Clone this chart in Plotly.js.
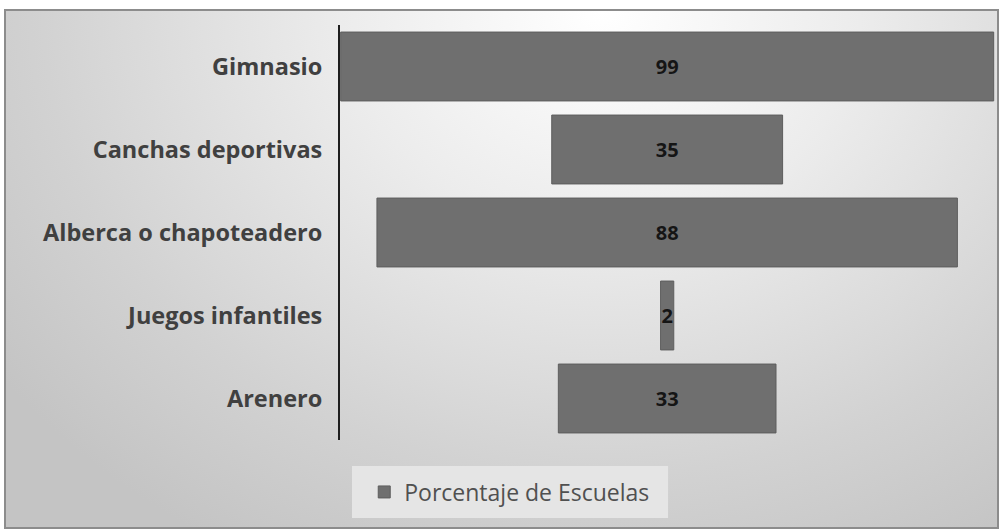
<!DOCTYPE html>
<html>
<head>
<meta charset="utf-8">
<script src="https://cdn.plot.ly/plotly-3.0.1.min.js"></script>
<style>
  html, body { margin:0; padding:0; width:1000px; height:531px; overflow:hidden; background:#ffffff; }
  #frame { position:absolute; left:4px; top:9px; width:991px; height:516px;
           border:2px solid #8c8c8c;
           background: radial-gradient(ellipse 75% 120% at 60% 0%, #ffffff 0%, #ececec 35%, #d2d2d2 75%, #c4c4c4 100%); }
  #chart { position:absolute; left:0; top:0; width:1000px; height:531px; }
</style>
</head>
<body>
<div id="frame"></div>
<div id="chart"></div>
<script>
const categories = ["Gimnasio", "Canchas deportivas", "Alberca o chapoteadero", "Juegos infantiles", "Arenero"];
const values = [99, 35, 88, 2, 33];
const seriesName = "Porcentaje de Escuelas";

const maxV = Math.max(...values);

const trace = {
  type: 'funnel',
  name: seriesName,
  y: categories,
  x: values,
  orientation: 'h',
  width: 0.83,
  marker: { color: '#6f6f6f', line: { color: '#5e5e5e', width: 1 } },
  connector: { visible: false },
  textinfo: 'value',
  textposition: 'inside',
  insidetextanchor: 'middle',
  constraintext: 'none',
  textfont: { family: 'Open Sans, sans-serif', size: 20, color: '#151515', weight: 'bold' },
  showlegend: true,
  hoverinfo: 'y+x'
};

const layout = {
  width: 1000,
  height: 531,
  margin: { l: 340, r: 5, t: 25, b: 91 },
  paper_bgcolor: 'rgba(0,0,0,0)',
  plot_bgcolor: 'rgba(0,0,0,0)',
  showlegend: true,
  xaxis: {
    visible: false,
    range: [-maxV / 2 - 0.1, maxV / 2 + 0.2],
    fixedrange: true
  },
  yaxis: {
    type: 'category',
    autorange: 'reversed',
    showline: true,
    linecolor: '#1e1e1e',
    linewidth: 2,
    showgrid: false,
    zeroline: false,
    ticks: '',
    ticklabelstandoff: 11,
    tickfont: { family: 'Open Sans, sans-serif', size: 23.5, color: '#404040', weight: 'bold' }
  },
  shapes: [{
    type: 'rect', layer: 'below',
    xref: 'paper', yref: 'paper',
    x0: 0.0183, x1: 0.5008, y0: -0.188, y1: -0.0627,
    fillcolor: '#e5e5e5', line: { width: 0 }
  }],
  legend: {
    orientation: 'h',
    x: 0.037, xanchor: 'left',
    y: -0.1253, yanchor: 'middle',
    bgcolor: 'rgba(0,0,0,0)',
    borderwidth: 0,
    font: { family: 'Open Sans, sans-serif', size: 23, color: '#505050' },
    itemwidth: 30
  }
};

Plotly.newPlot('chart', [trace], layout, { displayModeBar: false, staticPlot: true });
</script>
</body>
</html>
